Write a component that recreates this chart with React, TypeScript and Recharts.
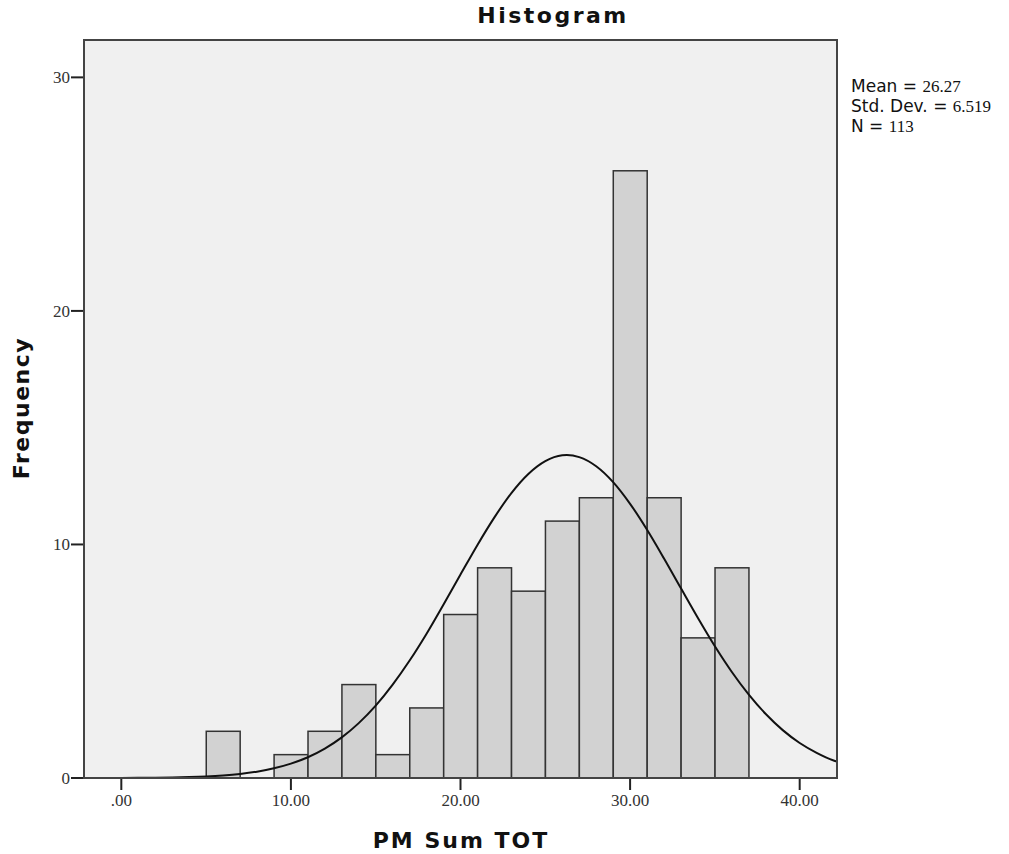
import React from "react";
import { ComposedChart, Bar, Line, XAxis, YAxis, CartesianGrid } from "recharts";

// histogram bins (lower edge, upper edge) and counts
const binStart = [5, 9, 11, 13, 15, 17, 19, 21, 23, 25, 27, 29, 31, 33, 35];
const binEnd = [7, 11, 13, 15, 17, 19, 21, 23, 25, 27, 29, 31, 33, 35, 37];
const counts = [2, 1, 2, 4, 1, 3, 7, 9, 8, 11, 12, 26, 12, 6, 9];

// normal curve
const curveX = [-2.2, -1, 0, 1, 2, 3, 4, 5, 6, 7, 8, 9, 10, 11, 12, 13, 14, 15, 16, 17, 18, 19, 20, 21, 22, 23, 24, 25, 26, 26.27, 27, 28, 29, 30, 31, 32, 33, 34, 35, 36, 37, 38, 39, 40, 41, 42, 42.2];
const curveY = [0.001, 0.002, 0.004, 0.0075, 0.0135, 0.024, 0.04, 0.067, 0.11, 0.175, 0.272, 0.414, 0.614, 0.889, 1.26, 1.74, 2.35, 3.1, 4.0, 5.03, 6.18, 7.43, 8.71, 9.98, 11.16, 12.2, 13.02, 13.57, 13.82, 13.83, 13.74, 13.35, 12.67, 11.74, 10.63, 9.4, 8.12, 6.85, 5.64, 4.54, 3.57, 2.74, 2.05, 1.5, 1.08, 0.75, 0.7];

const xTicks = [0, 10, 20, 30, 40];
const yTicks = [0, 10, 20, 30];

const W = 1009;
const H = 854;
const plotLeft = 84;
const plotRight = 837;
const plotTop = 40;
const plotBottom = 778;
const xDomain: [number, number] = [-2.2, 42.2];
const yDomain: [number, number] = [0, 31.6];

const pxPerUnit = (plotRight - plotLeft) / (xDomain[1] - xDomain[0]);

const binData = counts.map((c, i) => ({
    x: (binStart[i] + binEnd[i]) / 2,
    span: binEnd[i] - binStart[i],
    count: c,
}));
const curveData = curveX.map((x, i) => ({ x, curve: curveY[i] }));

const serif = "'Liberation Serif', 'Times New Roman', serif";
const sans = "'DejaVu Sans', sans-serif";

// recharts squeezes bars on a number axis, so widen each one to its bin
const BinShape = (props: any) => {
    const { x, y, width, height, payload } = props;
    if (!height) return null;
    const w = payload.span * pxPerUnit;
    const cx = x + width / 2;
    return (
        <rect
            x={cx - w / 2}
            y={y}
            width={w}
            height={height}
            fill="#d2d2d2"
            stroke="#333"
            strokeWidth={1.5}
        />
    );
};

export default function App() {
    return (
        <div style={{ position: "relative", width: W, height: H, background: "#fff" }}>
            <style>{"body{margin:0;}"}</style>
            <ComposedChart
                width={W}
                height={H}
                data={binData}
                margin={{ top: plotTop, right: W - plotRight, left: 0, bottom: 0 }}
            >
                <CartesianGrid fill="#f0f0f0" horizontal={false} vertical={false} />
                <XAxis
                    dataKey="x"
                    type="number"
                    domain={xDomain}
                    allowDataOverflow
                    ticks={xTicks}
                    height={H - plotBottom}
                    tickSize={12}
                    tickMargin={4}
                    stroke="#222"
                    strokeWidth={2}
                    tick={{ fill: "#333", fontFamily: serif, fontSize: 17 }}
                    tickFormatter={(v: number) => (v === 0 ? ".00" : v.toFixed(2))}
                />
                <YAxis
                    type="number"
                    domain={yDomain}
                    allowDataOverflow
                    ticks={yTicks}
                    width={plotLeft}
                    tickSize={13}
                    tickMargin={1}
                    stroke="#222"
                    strokeWidth={2}
                    tick={{ fill: "#333", fontFamily: serif, fontSize: 17 }}
                />
                <Bar
                    dataKey="count"
                    shape={BinShape}
                    fill="#d2d2d2"
                    isAnimationActive={false}
                />
                <Line
                    data={curveData}
                    dataKey="curve"
                    type="monotone"
                    stroke="#111"
                    strokeWidth={2}
                    dot={false}
                    activeDot={false}
                    isAnimationActive={false}
                />
            </ComposedChart>

            <svg
                width={W}
                height={H}
                style={{ position: "absolute", left: 0, top: 0, pointerEvents: "none" }}
            >
                {/* plot frame */}
                <rect
                    x={plotLeft}
                    y={plotTop}
                    width={plotRight - plotLeft}
                    height={plotBottom - plotTop}
                    fill="none"
                    stroke="#444"
                    strokeWidth={2}
                />
                <text x={553} y={23} textAnchor="middle" fontFamily={sans} fontWeight="bold" fontSize={22} letterSpacing={2.5} fill="#111">
                    Histogram
                </text>
                <text x={461} y={848} textAnchor="middle" fontFamily={sans} fontWeight="bold" fontSize={22} letterSpacing={2} fill="#111">
                    PM Sum TOT
                </text>
                <text
                    x={29}
                    y={408}
                    textAnchor="middle"
                    transform="rotate(-90, 29, 408)"
                    fontFamily={sans}
                    fontWeight="bold"
                    fontSize={22}
                    letterSpacing={1.5}
                    fill="#111"
                >
                    Frequency
                </text>

                {/* summary statistics */}
                <text x={851} y={92} fontSize={17} fill="#111">
                    <tspan fontFamily={sans}>Mean = </tspan>
                    <tspan fontFamily={serif}>26.27</tspan>
                </text>
                <text x={851} y={112} fontSize={17} fill="#111">
                    <tspan fontFamily={sans}>Std. Dev. = </tspan>
                    <tspan fontFamily={serif}>6.519</tspan>
                </text>
                <text x={851} y={132} fontSize={17} fill="#111">
                    <tspan fontFamily={sans}>N = </tspan>
                    <tspan fontFamily={serif}>113</tspan>
                </text>
            </svg>
        </div>
    );
}
